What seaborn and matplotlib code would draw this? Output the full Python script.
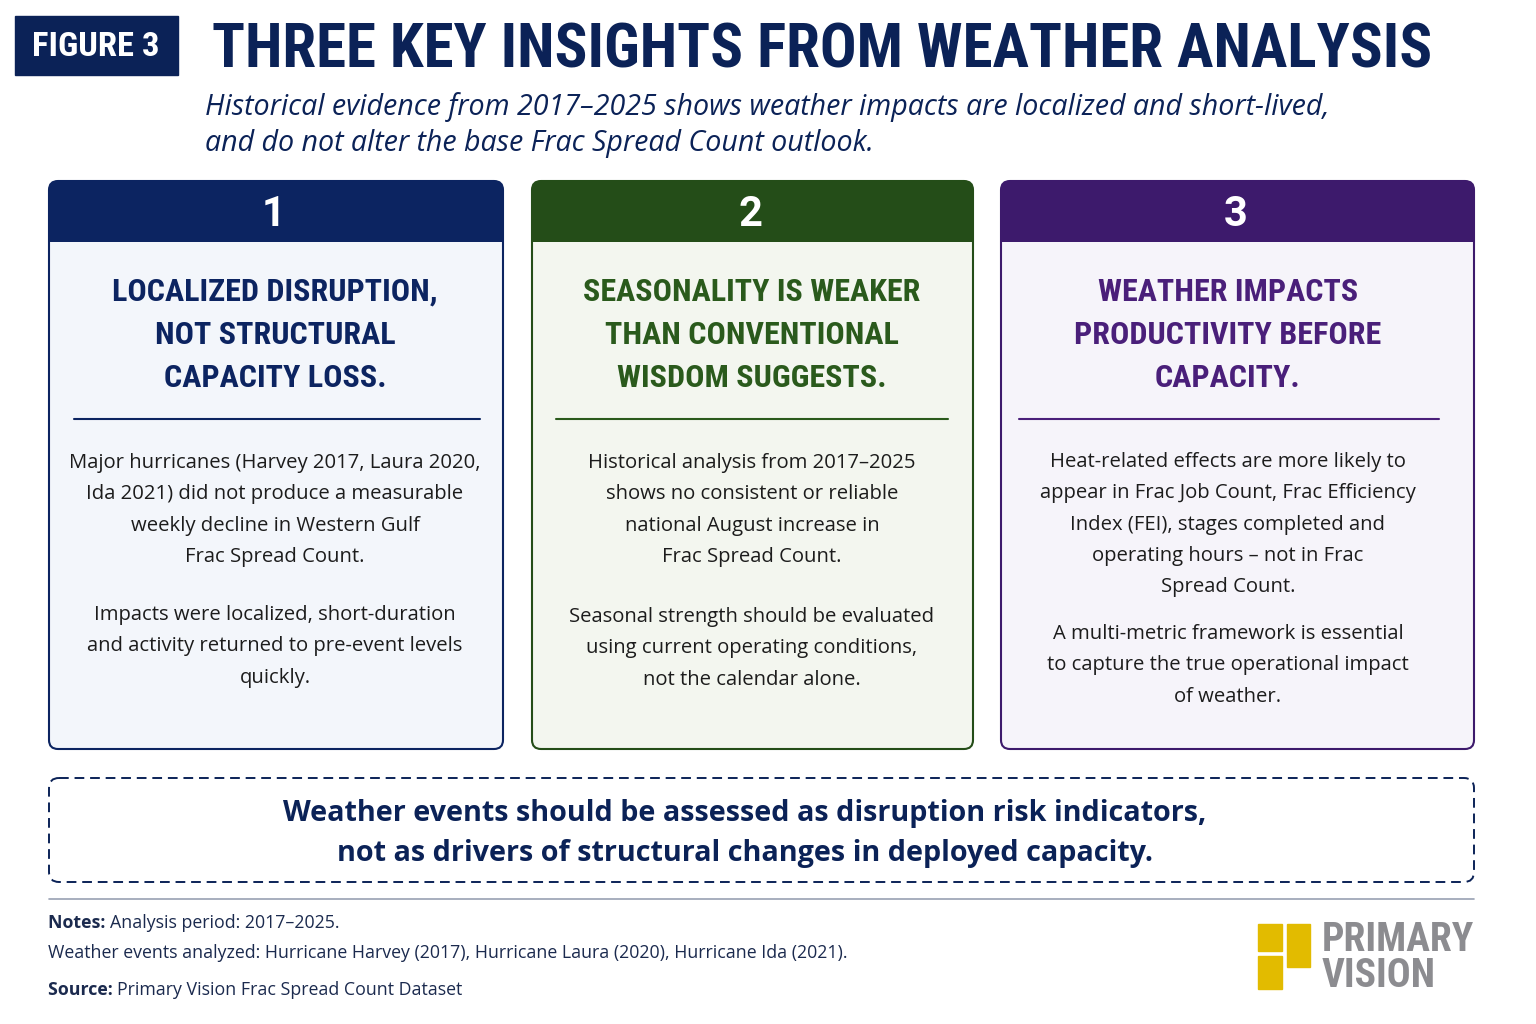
import numpy as np
import matplotlib
matplotlib.use("Agg")
import matplotlib.pyplot as plt
from matplotlib import font_manager
from matplotlib.patches import FancyBboxPatch, Rectangle
import seaborn as sns

# ---- content ----
figure_tag = "FIGURE 3"
title = "THREE KEY INSIGHTS FROM WEATHER ANALYSIS"
subtitle = ["Historical evidence from 2017\u20132025 shows weather impacts are localized and short-lived,",
            "and do not alter the base Frac Spread Count outlook."]

card_numbers = ["1", "2", "3"]
card_headings = [
    ["LOCALIZED DISRUPTION,", "NOT STRUCTURAL", "CAPACITY LOSS."],
    ["SEASONALITY IS WEAKER", "THAN CONVENTIONAL", "WISDOM SUGGESTS."],
    ["WEATHER IMPACTS", "PRODUCTIVITY BEFORE", "CAPACITY."],
]
card_paragraphs = [
    [["Major hurricanes (Harvey 2017, Laura 2020,", "Ida 2021) did not produce a measurable",
      "weekly decline in Western Gulf", "Frac Spread Count."],
     ["Impacts were localized, short-duration", "and activity returned to pre-event levels", "quickly."]],
    [["Historical analysis from 2017\u20132025", "shows no consistent or reliable",
      "national August increase in", "Frac Spread Count."],
     ["Seasonal strength should be evaluated", "using current operating conditions,", "not the calendar alone."]],
    [["Heat-related effects are more likely to", "appear in Frac Job Count, Frac Efficiency",
      "Index (FEI), stages completed and", "operating hours \u2013 not in Frac", "Spread Count."],
     ["A multi-metric framework is essential", "to capture the true operational impact", "of weather."]],
]
callout = ["Weather events should be assessed as disruption risk indicators,",
           "not as drivers of structural changes in deployed capacity."]
notes_label = "Notes:"
notes_text = "Analysis period: 2017\u20132025."
events_text = "Weather events analyzed: Hurricane Harvey (2017), Hurricane Laura (2020), Hurricane Ida (2021)."
source_label = "Source:"
source_text = "Primary Vision Frac Spread Count Dataset"
logo_words = ["PRIMARY", "VISION"]

# ---- style ----
NAVY = "#0b2257"
header_colors = ["#0c2461", "#244d18", "#3d1a6c"]
heading_colors = ["#0c2461", "#2a5a1c", "#4a1f7a"]
body_colors = ["#f3f6fb", "#f3f6ef", "#f6f4fa"]
TEXT = "#1c1c1c"
NOTE = "#1b2a4e"
GOLD = "#e2bb00"

sns.set_theme(style="white")

names = {f.name for f in font_manager.fontManager.ttflist}


def pick(cands):
    for c in cands:
        if c in names:
            return c
    return "DejaVu Sans"


COND = pick(["Roboto Condensed", "Barlow Condensed", "DejaVu Sans"])
BODY = pick(["Open Sans", "Lato", "Noto Sans", "DejaVu Sans"])
plt.rcParams["font.family"] = [BODY, "DejaVu Sans"]

fig = plt.figure(figsize=(15.36, 10.24), dpi=100)
ax = fig.add_axes([0, 0, 1, 1])
ax.set_xlim(0, 1536)
ax.set_ylim(1024, 0)
ax.axis("off")
renderer = fig.canvas.get_renderer()


def width_of(t):
    return t.get_window_extent(renderer=renderer).width


def fit(t, target):
    # scale font size so that the text spans the target width in pixels
    t.set_fontsize(t.get_fontsize() * target / width_of(t))
    return t


# ---- header ----
ax.add_patch(Rectangle((15, 16), 163, 59, color=NAVY, zorder=1))
fit(ax.text(96, 47, figure_tag, family=COND, weight="bold", fontsize=24, color="white",
            ha="center", va="center", zorder=2), 127)
fit(ax.text(212, 51, title, family=COND, weight="bold", fontsize=48, color=NAVY,
            ha="left", va="center"), 1222)
for i, line in enumerate(subtitle):
    t = ax.text(205, 107 + i * 37, line, style="italic", fontsize=19, color=NAVY,
                ha="left", va="center")
    if i == 0:
        fit(t, 1125)
        sub_size = t.get_fontsize()
    else:
        t.set_fontsize(sub_size)

# ---- cards ----
card_x = [49, 532, 1001]
card_w = [454, 441, 473]
text_cx = [275, 752, 1228]
sep_x = [(74, 480), (556, 948), (1019, 1439)]
para_y = [(462, 614), (462, 616), (461, 633)]
top, bottom, head_h = 181, 749, 61

probe = ax.text(0, 0, card_headings[0][0], family=COND, weight="bold", fontsize=25)
fit(probe, 325)
head_size = probe.get_fontsize()
probe.remove()

for k in range(3):
    x0, w = card_x[k], card_w[k]
    ax.add_patch(FancyBboxPatch((x0, top), w, bottom - top,
                                boxstyle="round,pad=0,rounding_size=9",
                                fc=body_colors[k], ec="none", zorder=1))
    ax.add_patch(FancyBboxPatch((x0, top), w, head_h,
                                boxstyle="round,pad=0,rounding_size=9",
                                fc=header_colors[k], ec="none", zorder=2))
    ax.add_patch(Rectangle((x0, top + head_h - 20), w, 20, fc=header_colors[k],
                           ec="none", zorder=2))
    ax.add_patch(FancyBboxPatch((x0, top), w, bottom - top,
                                boxstyle="round,pad=0,rounding_size=9",
                                fc="none", ec=header_colors[k], lw=1.5, zorder=3))
    ax.text(x0 + w / 2 - 2, top + 33, card_numbers[k], family="Roboto", weight="bold",
            fontsize=30, color="white", ha="center", va="center", zorder=4)
    for j, line in enumerate(card_headings[k]):
        ax.text(text_cx[k], 292 + j * 43, line, family=COND, weight="bold",
                fontsize=head_size, color=heading_colors[k], ha="center", va="center", zorder=4)
    ax.plot(sep_x[k], [419, 419], color=heading_colors[k], lw=1.5, zorder=4)
    for p, para in enumerate(card_paragraphs[k]):
        for j, line in enumerate(para):
            ax.text(text_cx[k], para_y[k][p] + 1 + j * 31.3, line, fontsize=14.6,
                    color=TEXT, ha="center", va="center", zorder=4)

# ---- callout ----
ax.add_patch(FancyBboxPatch((49, 778), 1425, 104,
                            boxstyle="round,pad=0,rounding_size=10",
                            fc="white", ec=NAVY, lw=1.4, ls=(0, (5, 3)), zorder=1))
for i, line in enumerate(callout):
    ax.text(745, 813 + i * 41, line, weight="bold", fontsize=20.7, color=NAVY,
            ha="center", va="center", zorder=2)

# ---- footer ----
ax.plot([49, 1474], [899, 899], color="#98a1b3", lw=1.2)


def label_line(y, label, rest):
    t = ax.text(48, y, label + " ", weight="bold", fontsize=12.8, color=NOTE,
                ha="left", va="center")
    bb = t.get_window_extent(renderer=renderer)
    x_after = ax.transData.inverted().transform((bb.x1, bb.y0))[0]
    ax.text(x_after, y, rest, fontsize=12.8, color=NOTE, ha="left", va="center")


label_line(923, notes_label, notes_text)
ax.text(48, 953, events_text, fontsize=12.8, color=NOTE, ha="left", va="center")
label_line(990, source_label, source_text)

# ---- logo ----
ax.add_patch(Rectangle((1258, 924), 24, 27, color=GOLD))
ax.add_patch(Rectangle((1258, 956), 24, 33, color=GOLD))
ax.add_patch(Rectangle((1287, 924), 23, 43, color=GOLD))
logo = ax.text(1322, 958, logo_words[0], family=COND, weight="bold", fontsize=30,
               color="#8c8c90", ha="left", va="center")
fit(logo, 152)
logo.set_text("\n".join(logo_words))
logo.set_linespacing(0.95)

fig.savefig("out.png", dpi=100)
